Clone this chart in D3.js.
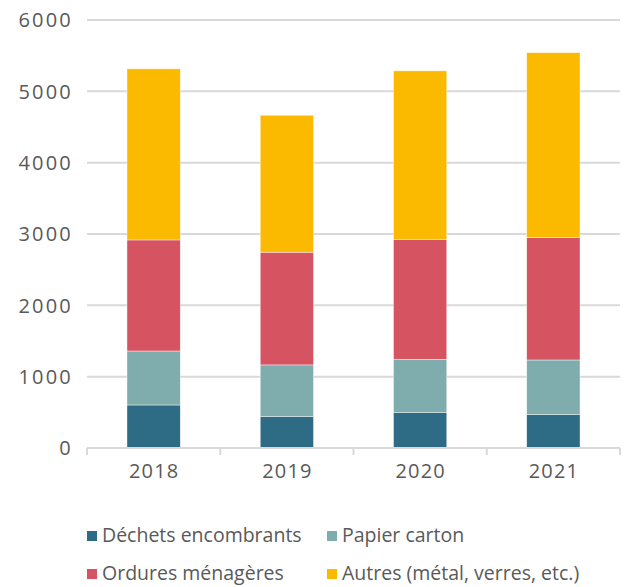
<!DOCTYPE html>
<html>
<head>
<meta charset="utf-8">
<script src="https://cdn.jsdelivr.net/npm/d3@7"></script>
<style>
  html, body { margin: 0; padding: 0; background: #fff; }
  svg text { font-family: 'Open Sans', sans-serif; fill: #595959; }
</style>
</head>
<body>
<svg id="chart" width="624" height="587"></svg>
<script>
// Données
const annees = ['2018', '2019', '2020', '2021'];
const series = ['Déchets encombrants', 'Papier carton', 'Ordures ménagères', 'Autres (métal, verres, etc.)'];
const dechetsEncombrants = [603, 440, 495, 467];
const papierCarton = [757, 725, 749, 767];
const orduresMenageres = [1557, 1580, 1677, 1716];
const autres = [2398, 1920, 2366, 2592];
const couleurs = ['#2e6b85', '#7fadad', '#d65462', '#fbb900'];
const ticksY = [0, 1000, 2000, 3000, 4000, 5000, 6000];

// Table pour d3.stack
const table = annees.map((a, i) => ({
  annee: a,
  [series[0]]: dechetsEncombrants[i],
  [series[1]]: papierCarton[i],
  [series[2]]: orduresMenageres[i],
  [series[3]]: autres[i]
}));

const svg = d3.select('#chart');
const marge = { left: 87, right: 4, top: 20, bottom: 139 };
const largeur = 624, hauteur = 587;

const x = d3.scaleBand().domain(annees)
  .range([marge.left, largeur - marge.right])
  .paddingInner(0.6).paddingOuter(0.3);
const y = d3.scaleLinear().domain([0, 6000]).range([hauteur - marge.bottom, marge.top]);

// Grille
svg.append('g').selectAll('line').data(ticksY.filter(t => t > 0)).enter().append('line')
  .attr('x1', marge.left).attr('x2', largeur - marge.right)
  .attr('y1', d => y(d)).attr('y2', d => y(d))
  .attr('stroke', '#d9d9d9').attr('stroke-width', 2);

// Etiquettes Y
svg.append('g').selectAll('text').data(ticksY).enter().append('text')
  .attr('x', 73).attr('y', d => y(d)).attr('dy', '0.36em')
  .attr('text-anchor', 'end').attr('font-size', 20)
  .attr('letter-spacing', 2.2)
  .text(d => d);

// Barres empilées
const pile = d3.stack().keys(series)(table);
svg.append('g').selectAll('g').data(pile).enter().append('g')
  .attr('fill', (d, i) => couleurs[i])
  .selectAll('rect').data(d => d).enter().append('rect')
  .attr('x', d => x(d.data.annee))
  .attr('width', x.bandwidth())
  .attr('y', d => y(d[1]))
  .attr('height', d => y(d[0]) - y(d[1]))
  .attr('stroke', '#ffffff').attr('stroke-width', 0.6).attr('stroke-opacity', 0.7);

// Axe X
const base = y(0);
svg.append('line')
  .attr('x1', marge.left).attr('x2', largeur - marge.right)
  .attr('y1', base).attr('y2', base)
  .attr('stroke', '#d9d9d9').attr('stroke-width', 2);
const limites = annees.map(a => x(a) - x.step() * x.paddingInner() / 2);
limites[0] = marge.left;
limites.push(largeur - marge.right);
svg.append('g').selectAll('line').data(limites).enter().append('line')
  .attr('x1', d => d).attr('x2', d => d)
  .attr('y1', base).attr('y2', base + 7)
  .attr('stroke', '#d9d9d9').attr('stroke-width', 2);
svg.append('g').selectAll('text').data(annees).enter().append('text')
  .attr('x', d => x(d) + x.bandwidth() / 2 + 0.6).attr('y', 478)
  .attr('text-anchor', 'middle').attr('font-size', 20)
  .attr('letter-spacing', 1.2)
  .text(d => d);

// Légende
const posLegende = [[87, 542], [327, 542], [87, 580], [327, 580]];
const legende = svg.append('g').selectAll('g').data(series).enter().append('g')
  .attr('transform', (d, i) => `translate(${posLegende[i][0]},${posLegende[i][1]})`);
legende.append('rect')
  .attr('x', 0).attr('y', -11).attr('width', 10).attr('height', 10)
  .attr('fill', (d, i) => couleurs[i]);
legende.append('text')
  .attr('x', 15).attr('y', 0).attr('font-size', 19.5)
  .text(d => d);
</script>
</body>
</html>
